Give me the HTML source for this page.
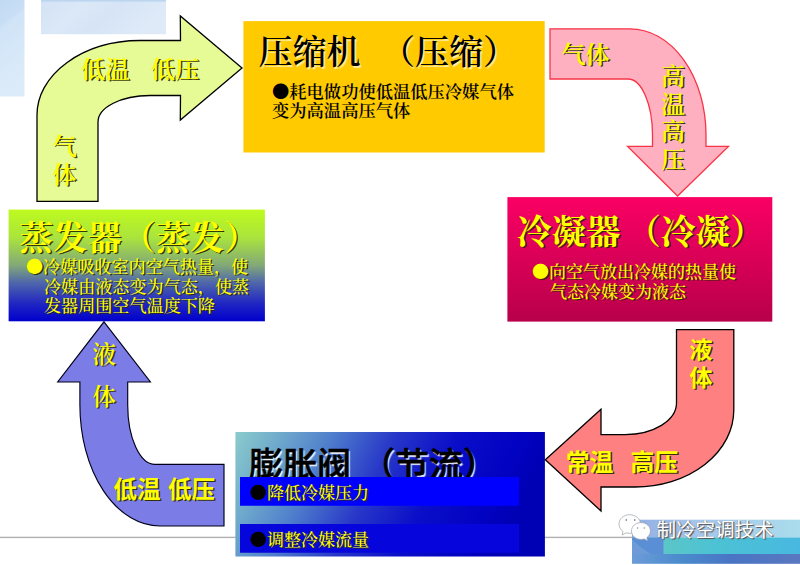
<!DOCTYPE html>
<html lang="zh-CN">
<head>
<meta charset="utf-8">
<title>制冷循环</title>
<style>
html,body{margin:0;padding:0;background:#fff;}
body{width:800px;height:565px;position:relative;overflow:hidden;font-family:"Liberation Serif","Noto Serif CJK SC",serif;}
#bg{position:absolute;left:0;top:0;}
.t{position:absolute;white-space:nowrap;line-height:1;}
.serif{font-family:"Liberation Serif","Noto Serif CJK SC",serif;}
.sans{font-family:"Liberation Sans","Noto Sans CJK SC",sans-serif;}
.y{color:#ffff00;text-shadow:1.4px 1.4px 0.6px rgba(40,40,0,.92);}
.title{font-size:33px;font-weight:700;}
.lbl{font-size:23px;font-weight:600;}
.sans.lbl{font-weight:700;}
.b{font-family:"Noto Sans CJK SC",sans-serif;}
.body{font-size:17px;font-weight:600;line-height:19px;}
</style>
</head>
<body>
<svg id="bg" width="800" height="565" viewBox="0 0 800 565">
<defs>
<linearGradient id="gEvap" x1="0" y1="0" x2="0" y2="1">
<stop offset="0" stop-color="#befa1e"/><stop offset="0.25" stop-color="#aae43c"/><stop offset="0.5" stop-color="#82a878"/><stop offset="0.65" stop-color="#5068aa"/><stop offset="0.85" stop-color="#1e23c3"/><stop offset="1" stop-color="#0000cc"/>
</linearGradient>
<linearGradient id="gCond" x1="0" y1="0" x2="0" y2="1">
<stop offset="0" stop-color="#fa0064"/><stop offset="1" stop-color="#b8004a"/>
</linearGradient>
<linearGradient id="gExp" x1="0" y1="0" x2="1" y2="0.2">
<stop offset="0" stop-color="#8acccc"/><stop offset="0.12" stop-color="#74b0cc"/><stop offset="0.3" stop-color="#5080cc"/><stop offset="0.5" stop-color="#2838c8"/><stop offset="0.7" stop-color="#0a0ec8"/><stop offset="0.9" stop-color="#0202c2"/><stop offset="1" stop-color="#0000b4"/>
</linearGradient>
<linearGradient id="gP1" x1="0" y1="0" x2="0.2" y2="1">
<stop offset="0" stop-color="#c2daf4"/><stop offset="0.25" stop-color="#c8def5"/><stop offset="0.3" stop-color="#d0e4f7"/><stop offset="1" stop-color="#dcebf9"/>
</linearGradient>
<linearGradient id="gP2" x1="0" y1="0" x2="1" y2="0.3">
<stop offset="0" stop-color="#d3e2f5"/><stop offset="0.35" stop-color="#dbe8f7"/><stop offset="0.6" stop-color="#d6e4f6"/><stop offset="1" stop-color="#deeaf8"/>
</linearGradient>
<linearGradient id="gWmTop" x1="0" y1="0" x2="1" y2="0">
<stop offset="0" stop-color="#90aee4"/><stop offset="0.35" stop-color="#a4c4ea"/><stop offset="1" stop-color="#aadcec"/>
</linearGradient>
<linearGradient id="gWmMid" x1="0" y1="0" x2="1" y2="0">
<stop offset="0" stop-color="#5cc6c8"/><stop offset="0.19" stop-color="#5cc6c8"/><stop offset="0.5" stop-color="#4cc2d4"/><stop offset="1" stop-color="#48b8e0"/>
</linearGradient>
<linearGradient id="gWmBot" x1="0" y1="0" x2="1" y2="0">
<stop offset="0" stop-color="#6c9cd8"/><stop offset="0.3" stop-color="#4a8acc"/><stop offset="0.6" stop-color="#4a74c4"/><stop offset="1" stop-color="#5a78c0"/>
</linearGradient>
</defs>
<!-- faint background panels -->
<rect x="0" y="0" width="24.5" height="96.5" fill="url(#gP1)"/>
<rect x="41" y="0" width="125" height="34.2" fill="url(#gP2)"/>
<rect x="41" y="0" width="125" height="1.6" fill="#bcd6f0"/>
<!-- gray line -->
<rect x="0" y="536.7" width="636" height="1.4" fill="#b0b0b0"/>
<!-- watermark bar -->
<rect x="632" y="519.7" width="168" height="18" fill="url(#gWmTop)"/>
<rect x="632" y="537.5" width="168" height="16.5" fill="url(#gWmMid)"/>
<rect x="632" y="554" width="168" height="9.8" fill="url(#gWmBot)"/>
<path d="M632,537.5 L663.5,537.5 L663.5,554 L650,554 Q640,548 632,540 Z" fill="#5a8fd6"/>
<path d="M632,540 Q640,548 650,554 L632,554 Z" fill="#6f9ad8"/>
<!-- wechat icon -->
<g fill="#fff" stroke="#9a9ea8" stroke-width="0.7">
<path d="M629.5,514.7 C623.5,514.7 619,518.8 619,524 C619,527 620.6,529.6 623,531.3 L622.2,535 L626,532.8 C627.1,533.1 628.3,533.3 629.5,533.3 C635.5,533.3 640.6,529.2 640.6,524 C640.6,518.8 635.5,514.7 629.5,514.7 Z"/>
<path d="M641,522.6 C635.7,522.6 631.5,526.3 631.5,531 C631.5,535.7 635.7,539.4 641,539.4 C642.1,539.4 643.2,539.2 644.2,538.9 L647.6,540.8 L646.8,537.6 C649,536 650.4,533.7 650.4,531 C650.4,526.3 646.2,522.6 641,522.6 Z"/>
</g>
<g fill="#8a8e98"><circle cx="626.3" cy="520" r="0.9"/><circle cx="634.7" cy="520" r="0.9"/><circle cx="637.6" cy="528" r="0.8"/><circle cx="644.3" cy="528" r="0.8"/></g>
<!-- boxes -->
<rect x="243.4" y="21.1" width="301.3" height="131.4" fill="#ffca00"/>
<rect x="8.6" y="209.6" width="256.3" height="111.7" fill="url(#gEvap)"/>
<rect x="507.4" y="197.1" width="264.9" height="124.5" fill="url(#gCond)"/>
<rect x="235.4" y="432" width="309.5" height="124.5" fill="url(#gExp)"/>
<rect x="240" y="477" width="279" height="28.5" fill="#0000ff"/>
<rect x="240" y="524" width="279" height="28.5" fill="#0606dc"/>
<!-- green arrow -->
<path d="M37,201.4 L37,115 A103.4,74.5 0 0 1 140,40.5 L180.5,40.5 L180.3,16 L242,68 L180.3,120 L180.5,95.5 L150,95.5 A52,26.5 0 0 0 98,122 L98,201.4 Z" fill="#e6fa96" stroke="#000" stroke-width="1.3" stroke-linejoin="miter"/>
<!-- pink arrow -->
<path d="M550,28.8 L630,28.8 A76,106.2 0 0 1 706,135 L706,146.4 L728.5,146.4 L677.6,196 L627.6,146.4 L652.5,146.4 L652.5,135 A24.5,56 0 0 0 628,79 L550,79 Z" fill="#ffb0c0" stroke="#f83446" stroke-width="1.3"/>
<!-- red arrow -->
<path d="M676.5,329.6 L733.8,329.6 L733.8,410 A98.8,77 0 0 1 635,487 L601,487 L601,511 L545.3,459.8 L601,409.2 L601,434.6 L625,434.6 A51.6,31.6 0 0 0 676.5,403 Z" fill="#ff8080" stroke="#000" stroke-width="1.3"/>
<!-- purple arrow -->
<path d="M104,321.8 L150.4,382 L127.7,382 L127.7,405 A27.3,59.4 0 0 0 155,464.4 L224,464.4 L224,526 L160,526 A80,121 0 0 1 79.9,405 L79.9,382 L57.7,382 Z" fill="#7c7ce6" stroke="#000018" stroke-width="1.15"/>
</svg>

<!-- compressor -->
<div class="t serif title" style="left:258.5px;top:35.5px;font-size:34px;font-weight:600;color:#000;text-shadow:1.5px 1.5px 1px rgba(255,240,180,.9);">压缩机<span style="padding-left:20.5px"></span>（压缩）</div>
<div class="t serif body" style="left:272px;top:80.5px;font-size:17.3px;color:#000;white-space:normal;width:260px;"><span class="b">●</span>耗电做功使低温低压冷媒气体<br>变为高温高压气体</div>

<!-- evaporator -->
<div class="t serif title y" style="left:19px;top:222px;font-size:34.2px;">蒸发器（蒸发）</div>
<div class="t serif y" style="left:26px;top:256px;font-size:17.1px;font-weight:500;line-height:19.7px;"><span class="b">●</span>冷媒吸收室内空气热量，使<br><span style="padding-left:18px"></span>冷媒由液态变为气态，使蒸<br><span style="padding-left:18px"></span>发器周围空气温度下降</div>

<!-- condenser -->
<div class="t serif title y" style="left:517px;top:214.5px;font-size:34.5px;">冷凝器<span style="padding-left:6px"></span>（冷凝）</div>
<div class="t serif y" style="left:532px;top:261.3px;font-size:17px;font-weight:500;line-height:19.5px;"><span class="b">●</span>向空气放出冷媒的热量使<br><span style="padding-left:18px"></span>气态冷媒变为液态</div>

<!-- expansion valve -->
<div class="t sans title" style="left:249px;top:448px;font-size:34px;color:#000;font-weight:500;-webkit-text-stroke:0.6px #000;text-shadow:1.5px 1.5px 1px rgba(255,255,255,.9);">膨胀阀<span style="padding-left:10px"></span>（节流）</div>
<svg style="position:absolute;left:0;top:0;pointer-events:none" width="800" height="565">
<rect x="240" y="477" width="279" height="28.5" fill="#0000ff"/>
<rect x="240" y="524" width="279" height="28.5" fill="#0606dc"/>
</svg>
<div class="t serif" style="left:250px;top:483px;font-size:17px;font-weight:500;"><span class="b" style="color:#000">●</span><span class="y">降低冷媒压力</span></div>
<div class="t serif" style="left:250px;top:530px;font-size:17px;font-weight:500;"><span class="b" style="color:#000">●</span><span class="y">调整冷媒流量</span></div>

<!-- arrow labels -->
<div class="t serif lbl y" style="left:81px;top:58px;font-size:24.3px;">低温</div>
<div class="t serif lbl y" style="left:150.8px;top:58px;font-size:24.3px;">低压</div>
<div class="t serif lbl y" style="left:52.5px;top:134.3px;font-size:24px;line-height:27.5px;">气<br>体</div>
<div class="t serif lbl y" style="left:561.3px;top:42.5px;font-size:24.3px;">气体</div>
<div class="t serif lbl y" style="left:661px;top:63.8px;font-size:24px;line-height:27.7px;">高<br>温<br>高<br>压</div>
<div class="t sans lbl y" style="left:689.5px;top:335.5px;font-size:23px;line-height:28px;">液<br>体</div>
<div class="t sans lbl y" style="left:565.8px;top:451.3px;font-size:23.8px;">常温</div>
<div class="t sans lbl y" style="left:630.5px;top:451.3px;font-size:23.8px;">高压</div>
<div class="t serif lbl y" style="left:92.5px;top:333.5px;font-size:23.5px;line-height:42.5px;">液<br>体</div>
<div class="t sans lbl y" style="left:113.6px;top:478.8px;font-size:23.5px;">低温</div>
<div class="t sans lbl y" style="left:168px;top:478.8px;font-size:23.5px;">低压</div>

<!-- watermark -->
<div class="t sans" style="left:656.5px;top:520.5px;font-size:19.5px;color:#fff;text-shadow:1.2px 1.2px 0.8px #555,-0.5px -0.5px 0.8px #999;">制冷空调技术</div>
</body>
</html>
